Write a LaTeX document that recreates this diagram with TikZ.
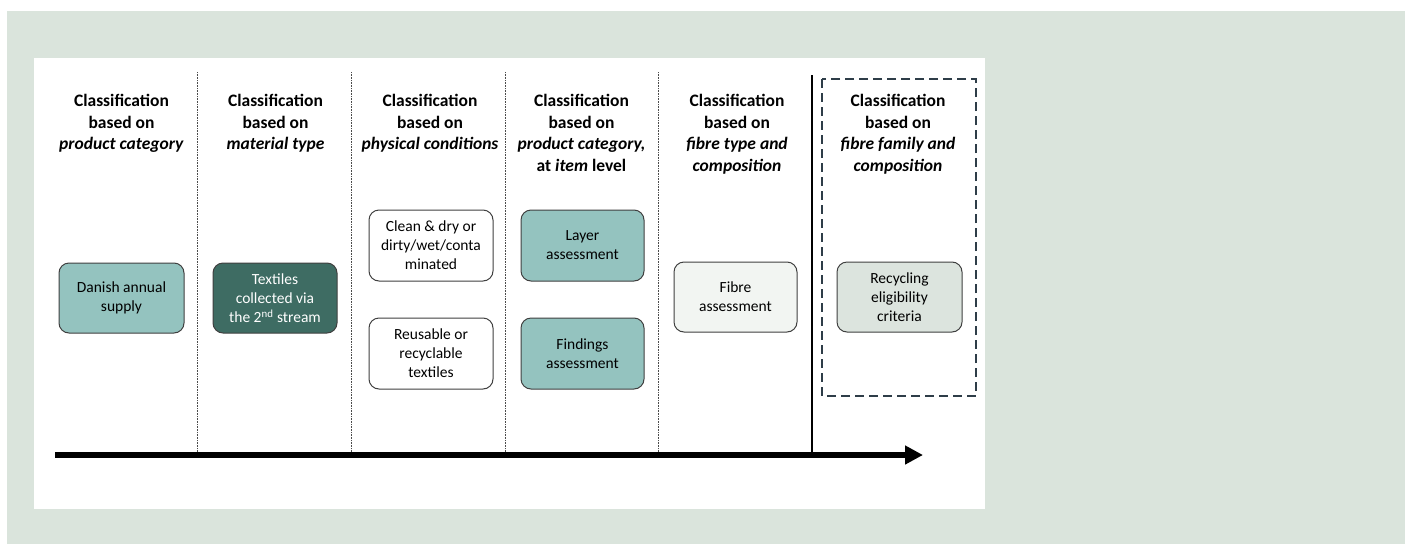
\documentclass[tikz,border=0pt]{standalone}
\usepackage{fontspec}
\setmainfont{Carlito}
\usetikzlibrary{arrows.meta}
\definecolor{pagebg}{HTML}{DAE4DC}
\definecolor{tealA}{HTML}{94C3BF}
\definecolor{tealD}{HTML}{3E6C63}
\definecolor{paleA}{HTML}{F2F5F2}
\definecolor{paleB}{HTML}{DCE4DE}
\definecolor{edge}{HTML}{404040}
\definecolor{dashc}{HTML}{2E3D48}
\tikzset{
  head/.style={anchor=north, inner sep=0pt, align=center,
    font=\fontsize{17.5}{21.6}\selectfont\bfseries},
  stage/.style={draw=edge, line width=1pt, rounded corners=10pt,
    minimum width=124pt, minimum height=71pt, inner sep=2pt, align=center,
    font=\fontsize{15.5}{19}\selectfont},
  divider/.style={draw=black!70, line width=1pt, dash pattern=on 0.8pt off 0.8pt},
}
\begin{document}
\begin{tikzpicture}[x=1pt, y=-1pt]
\useasboundingbox (0,0) rectangle (1405,544);
% backgrounds
\fill[pagebg] (7,11) rectangle (1405,544);
\fill[white] (34,58) rectangle (985,509);

% column dividers
\foreach \xx in {197,351,505,658}
  \draw[divider] (\xx,72) -- (\xx,452);
\draw[line width=1.3pt] (812,75) -- (812,455);

% dashed frame around last column
\draw[dashc, line width=1.5pt, dash pattern=on 9pt off 5pt] (822,79) rectangle (976,396);

% column headings
\node[head] (h1) at (121.5,94) {Classification\\based on\\\textit{product category}};
\node[head] (h2) at (275.5,94) {Classification\\based on\\\textit{material type}};
\node[head] (h3) at (430,94) {Classification\\based on\\\textit{physical conditions}};
\node[head] (h4) at (581.5,94) {Classification\\based on\\\textit{product category,}\\at \textit{item} level};
\node[head] (h5) at (737,94) {Classification\\based on\\\textit{fibre type and}\\\textit{composition}};
\node[head] (h6) at (898,94) {Classification\\based on\\\textit{fibre family and}\\\textit{composition}};

% stage boxes
\node[stage, fill=tealA, minimum width=125pt, minimum height=70pt] (s1) at (121.5,298) {Danish annual\\supply};
\node[stage, fill=tealD, text=white, minimum height=70pt] (s2) at (275,298) {Textiles\\collected via\\the 2\textsuperscript{nd} stream};
\node[stage, fill=white] (s3a) at (431,245.5) {Clean \& dry or\\dirty/wet/conta\\minated};
\node[stage, fill=white] (s3b) at (431,353.5) {Reusable or\\recyclable\\textiles};
\node[stage, fill=tealA, minimum width=123pt] (s4a) at (582.5,245.5) {Layer\\assessment};
\node[stage, fill=tealA, minimum width=123pt] (s4b) at (582.5,353.5) {Findings\\assessment};
\node[stage, fill=paleA, minimum width=123pt, minimum height=70pt] (s5) at (735.5,297) {Fibre\\assessment};
\node[stage, fill=paleB, minimum width=125pt, minimum height=70pt] (s6) at (899.5,297) {Recycling\\eligibility\\criteria};

% time axis
\coordinate (tstart) at (55,455);
\coordinate (tend) at (923,455);
\draw[line width=6pt, -{Triangle[length=18pt, width=18pt]}] (tstart) -- (tend);
\end{tikzpicture}
\end{document}
